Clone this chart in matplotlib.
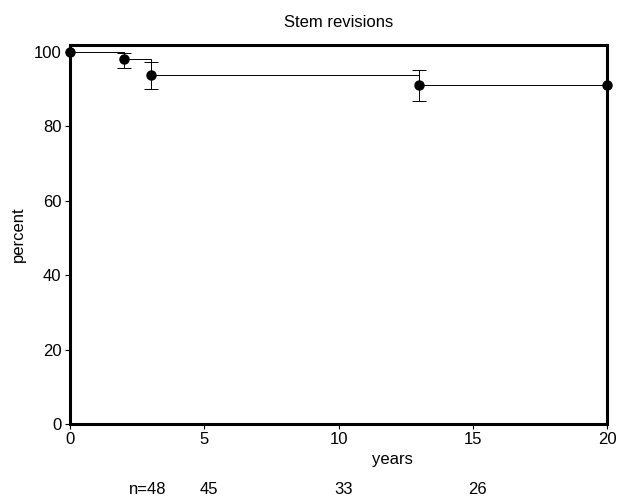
"""Kaplan-Meier style survival curve: stem revisions."""
import matplotlib
matplotlib.use("Agg")
import matplotlib.pyplot as plt
import matplotlib.transforms as mtransforms

plt.rcParams["font.family"] = ["Liberation Sans", "DejaVu Sans"]

# survival estimates (percent) at event times (years)
years = [0, 2, 3, 13, 20]
percent = [100, 98.0, 93.7, 91.0, 91.0]
err_low = [0, 2.3, 3.7, 4.3, 0]
err_high = [0, 1.6, 3.5, 4.2, 0]

# numbers at risk shown below the axis
n_labels = ["n=48", "45", "33", "26"]
n_pos = [2.88, 5.18, 10.2, 15.16]

FS = 12

fig = plt.figure(figsize=(6.19, 4.99), dpi=100)
ax = fig.add_axes([0.113, 0.150, 0.868, 0.760])

ax.plot(years, percent, drawstyle="steps-post", color="black", lw=0.7)
ax.errorbar(years[1:4], percent[1:4], yerr=[err_low[1:4], err_high[1:4]],
            fmt="none", ecolor="black", elinewidth=0.7, capsize=5,
            capthick=0.7)
ax.plot(years, percent, "o", color="black", ms=6.5, clip_on=False, zorder=5)

ax.set_xlim(0, 20)
ax.set_ylim(0, 101.9)
ax.set_xticks([0, 5, 10, 15, 20])
ax.set_yticks([0, 20, 40, 60, 80, 100])
ax.tick_params(labelsize=FS, length=3.5, width=0.8, direction="out", pad=2.5)
for s in ax.spines.values():
    s.set_linewidth(2.2)

ax.set_title("Stem revisions", fontsize=FS, pad=13)
ax.set_ylabel("percent", fontsize=FS, labelpad=6)
ax.set_xlabel("years", fontsize=FS)
ax.xaxis.set_label_coords(0.6, -0.074)

trans = mtransforms.blended_transform_factory(ax.transData, fig.transFigure)
for lab, xp in zip(n_labels, n_pos):
    ax.text(xp, 0.020, lab, transform=trans, ha="center", va="center",
            fontsize=FS, clip_on=False)

fig.savefig("out.png", dpi=100)
